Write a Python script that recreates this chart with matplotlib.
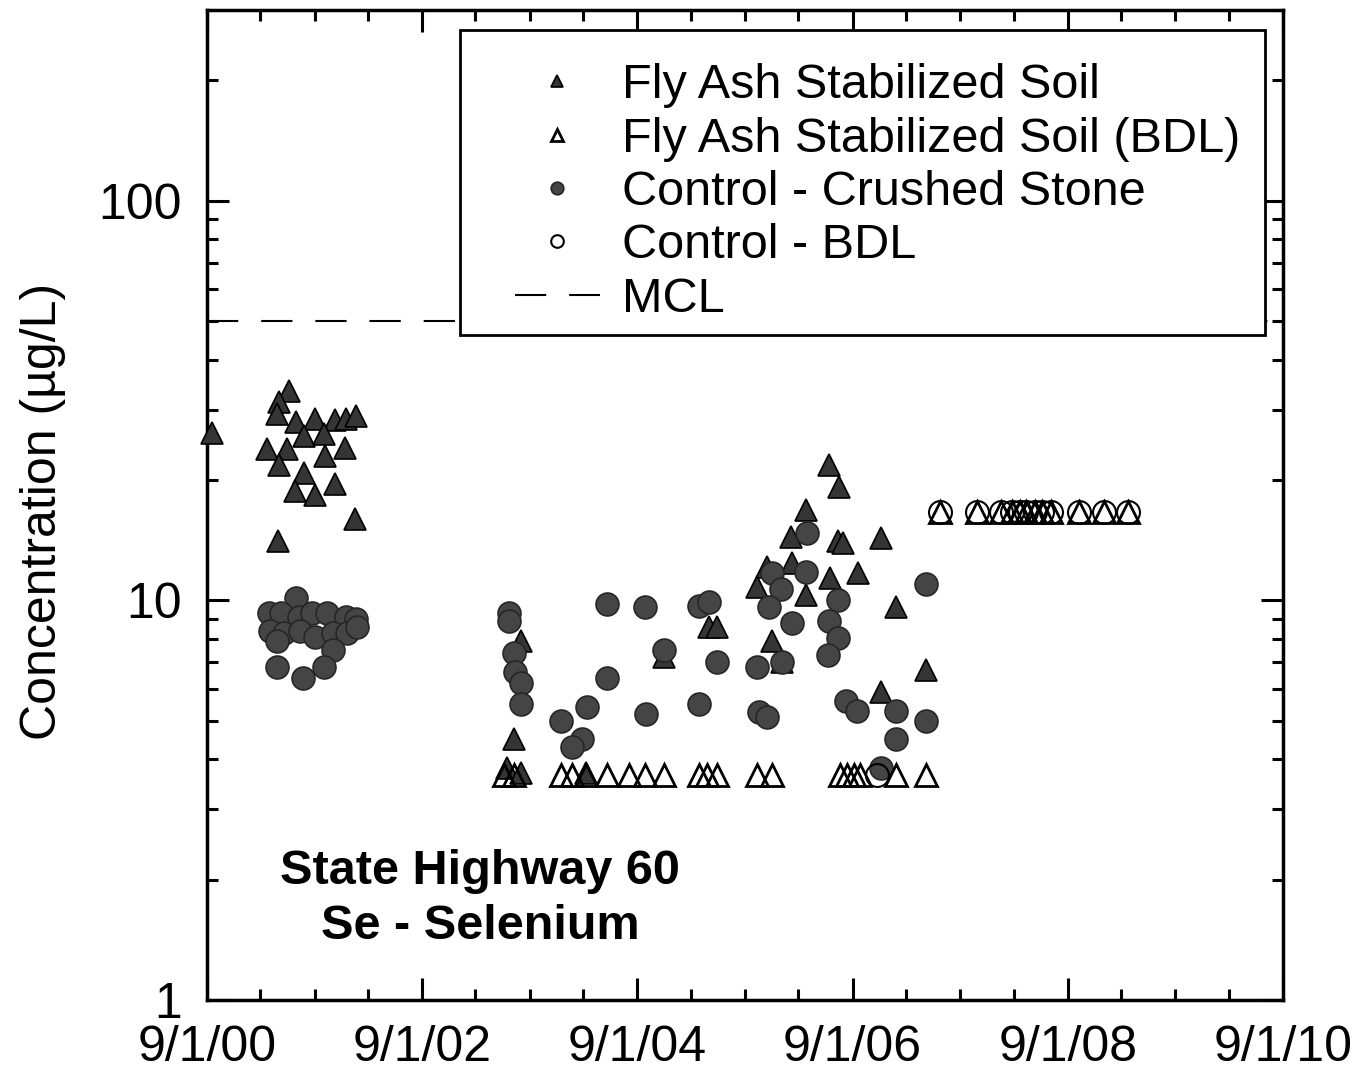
import matplotlib
matplotlib.use("Agg")
import matplotlib.pyplot as plt
import matplotlib.dates as mdates
from matplotlib.patches import Rectangle
from matplotlib.ticker import LogLocator, NullFormatter, FixedLocator, FuncFormatter
import pandas as pd

plt.rcParams['font.family'] = ['Liberation Sans', 'DejaVu Sans']

# Fly ash stabilized soil (detected)
fly_dates = ["2000-09-18", "2001-06-05", "2001-05-05", "2001-04-28", "2001-07-01",
             "2001-09-01", "2001-11-08", "2001-12-18", "2002-01-21", "2001-07-28",
             "2001-10-04", "2001-03-25", "2001-06-01", "2001-10-08", "2001-12-12",
             "2001-05-05", "2001-07-28", "2001-06-25", "2001-09-01", "2001-11-08",
             "2002-01-18", "2001-05-01",
             "2003-08-03", "2003-07-10", "2003-06-16", "2003-08-03", "2004-03-10",
             "2004-12-01", "2005-05-01", "2005-05-28",
             "2006-06-13", "2006-07-16", "2006-03-28", "2006-02-04", "2006-07-12",
             "2006-08-01", "2006-12-07", "2005-11-13", "2006-02-06", "2006-06-15",
             "2006-09-18", "2005-10-13", "2006-03-28", "2007-01-25", "2005-12-01",
             "2006-01-04", "2007-05-10", "2006-12-05"]
fly_vals = [26.3, 33.5, 31.3, 29.3, 27.9,
            28.5, 28.2, 28.5, 29.0, 25.8,
            26.1, 23.9, 23.9, 23.0, 24.0,
            21.8, 20.8, 18.8, 18.3, 19.6,
            16.0, 14.1,
            7.9, 4.5, 3.8, 3.7, 3.7,
            7.2, 8.6, 8.6,
            21.8, 19.2, 16.8, 14.4, 14.1,
            13.9, 14.3, 12.1, 12.4, 11.4,
            11.7, 10.8, 10.3, 9.6, 7.9,
            7.0, 6.7, 5.9]

# Fly ash stabilized soil below detection limit
fly_bdl_dates = ["2003-06-06", "2003-07-10", "2003-12-16", "2004-01-24", "2004-03-10",
                 "2004-05-20", "2004-08-04", "2004-09-28", "2004-12-01", "2005-03-28",
                 "2005-04-24", "2005-05-28", "2005-10-13", "2005-12-01", "2006-07-22",
                 "2006-08-13", "2006-09-05", "2006-09-28", "2007-01-25", "2007-05-10",
                 "2007-06-26", "2007-10-28", "2008-01-19", "2008-02-23", "2008-03-24",
                 "2008-04-13", "2008-05-13", "2008-06-04", "2008-07-07", "2008-10-07",
                 "2009-01-01", "2009-03-25"]
fly_bdl_vals = [3.65] * 20 + [16.6] * 12

# Control - crushed stone (detected)
ctrl_dates = ["2001-07-01", "2001-04-01", "2001-05-11", "2001-07-11", "2001-08-25",
              "2001-10-12", "2001-12-18", "2002-01-21", "2001-04-03", "2001-05-21",
              "2001-07-13", "2001-09-01", "2001-11-01", "2001-12-20", "2002-01-23",
              "2001-04-28", "2001-11-03", "2001-04-26", "2001-07-25", "2001-10-04",
              "2003-06-23", "2003-06-24", "2003-07-10", "2003-07-12", "2003-08-03",
              "2003-08-04", "2004-05-20", "2004-09-28", "2005-03-28", "2005-05-01",
              "2004-12-01", "2005-05-28", "2004-05-22", "2004-03-13", "2003-12-16",
              "2004-09-30", "2005-03-30", "2004-02-26", "2004-01-24",
              "2006-03-30", "2005-12-01", "2006-03-26", "2006-01-01", "2005-11-22",
              "2006-07-14", "2006-06-13", "2006-02-07", "2006-07-12", "2006-06-11",
              "2005-10-13", "2006-01-04", "2007-05-10", "2006-08-10", "2006-09-15",
              "2007-01-25", "2007-05-10", "2007-01-27", "2005-10-19", "2005-11-13",
              "2006-12-07"]
ctrl_vals = [10.15, 9.3, 9.3, 9.1, 9.3,
             9.3, 9.1, 9.0, 8.4, 8.3,
             8.4, 8.1, 8.3, 8.3, 8.6,
             7.9, 7.5, 6.8, 6.4, 6.8,
             9.3, 8.9, 7.4, 6.6, 6.2,
             5.5, 9.8, 9.6, 9.7, 9.9,
             7.5, 7.0, 6.4, 5.4, 5.0,
             5.2, 5.5, 4.5, 4.3,
             14.7, 11.7, 11.8, 10.7, 9.6,
             10.0, 8.9, 8.8, 8.05, 7.3,
             6.8, 7.0, 11.0, 5.6, 5.3,
             5.3, 5.0, 4.5, 5.25, 5.1,
             3.8]

# Control below detection limit
ctrl_bdl_dates = ["2006-11-22",
                  "2007-06-26", "2007-10-28", "2008-01-19", "2008-02-23", "2008-03-24",
                  "2008-04-13", "2008-05-13", "2008-06-04", "2008-07-07", "2008-10-07",
                  "2009-01-01", "2009-03-25"]
ctrl_bdl_vals = [3.65] + [16.6] * 12

mcl = 50
xlim_dates = ["2000-09-01", "2010-09-01"]
ylim_vals = (1, 300)

to_dt = pd.to_datetime

fig = plt.figure(figsize=(13.57, 10.72), dpi=100)
ax = fig.add_axes([207 / 1357, 72 / 1072, 1076 / 1357, 990 / 1072])

ax.plot(to_dt(fly_dates), fly_vals, linestyle='none', marker='^', ms=16,
        mfc='#353535', mec='black', mew=1.2, clip_on=False, zorder=3,
        label='Fly Ash Stabilized Soil')
ax.plot(to_dt(fly_bdl_dates), fly_bdl_vals, linestyle='none', marker='^', ms=16,
        mfc='none', mec='black', mew=2, zorder=5,
        label='Fly Ash Stabilized Soil (BDL)')
ax.plot(to_dt(ctrl_dates), ctrl_vals, linestyle='none', marker='o', ms=16.5,
        mfc='#454545', mec='#262626', mew=1.2, zorder=4,
        label='Control - Crushed Stone')
ax.plot(to_dt(ctrl_bdl_dates), ctrl_bdl_vals, linestyle='none', marker='o', ms=16.5,
        mfc='none', mec='black', mew=1.5, zorder=4,
        label='Control - BDL')
ax.axhline(mcl, color='black', lw=1.5, linestyle=(0, (15, 11)), zorder=2, label='MCL')

ax.set_yscale('log')
ax.set_ylim(*ylim_vals)
ax.set_xlim(to_dt(xlim_dates[0]), to_dt(xlim_dates[1]))

ax.yaxis.set_major_locator(FixedLocator([1, 10, 100]))
ax.yaxis.set_major_formatter(FuncFormatter(lambda v, p: f"{v:g}"))
ax.yaxis.set_minor_locator(LogLocator(base=10, subs=range(2, 10), numticks=20))
ax.yaxis.set_minor_formatter(NullFormatter())

ax.xaxis.set_major_locator(FixedLocator(
    [mdates.date2num(to_dt(f"{y}-09-01")) for y in range(2000, 2011, 2)]))
ax.xaxis.set_minor_locator(mdates.MonthLocator(bymonth=[3, 9], bymonthday=1))
ax.xaxis.set_major_formatter(FuncFormatter(
    lambda v, p: (lambda d: f"{d.month}/{d.day}/{d.year % 100:02d}")(mdates.num2date(v))))

ax.tick_params(which='both', direction='in', top=True, right=True, width=2.2,
               colors='black')
ax.tick_params(which='major', length=16)
ax.tick_params(which='minor', length=8)
ax.tick_params(axis='x', pad=18, labelsize=36)
ax.tick_params(axis='y', pad=18, labelsize=36)
for s in ax.spines.values():
    s.set_linewidth(2.5)

ax.set_ylabel('Concentration (\u00b5g/L)', fontsize=36, va='center')
ax.yaxis.set_label_coords(-0.152, 0.493)

ax.text(0.254, 0.102, 'State Highway 60\nSe - Selenium', transform=ax.transAxes,
        ha='center', va='center', multialignment='center', fontsize=35,
        fontweight='bold', linespacing=1.3)

# legend frame
ax.add_patch(Rectangle((0.235, 0.672), 0.748, 0.308, transform=ax.transAxes,
                       facecolor='white', edgecolor='black', lw=2, zorder=6,
                       clip_on=False))
leg = ax.legend(loc='upper left', bbox_to_anchor=(0.286, 0.946), frameon=False,
                fontsize=35, markerscale=0.55, handlelength=1.75,
                handletextpad=0.45, labelspacing=0.17, borderpad=0,
                borderaxespad=0)
leg.set_zorder(7)

fig.savefig('out.png', dpi=100)
